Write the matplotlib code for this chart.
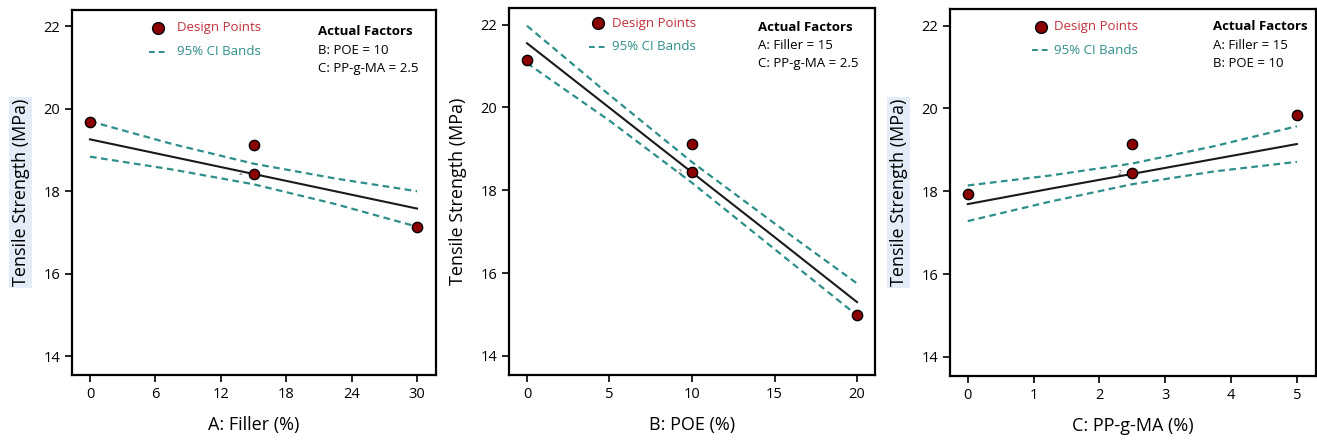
import matplotlib
matplotlib.use("Agg")
import matplotlib.pyplot as plt

plt.rcParams['font.family'] = ['Open Sans', 'DejaVu Sans']

# ---- data ----
# Panel A: Filler
a_x_pts = [0, 15, 15, 30]
a_y_pts = [19.68, 19.12, 18.43, 17.14]
a_x_line = [0, 7.5, 15, 22.5, 30]
a_fit = [19.26, 18.84, 18.42, 18.00, 17.58]
a_upper = [19.70, 19.15, 18.67, 18.31, 18.00]
a_lower = [18.84, 18.53, 18.17, 17.69, 17.14]

# Panel B: POE
b_x_pts = [0, 10, 10, 20]
b_y_pts = [21.15, 19.12, 18.44, 14.99]
b_x_line = [0, 5, 10, 15, 20]
b_fit = [21.55, 19.99, 18.43, 16.87, 15.30]
b_upper = [21.97, 20.30, 18.68, 17.20, 15.75]
b_lower = [21.07, 19.68, 18.18, 16.58, 14.98]

# Panel C: PP-g-MA
c_x_pts = [0, 2.5, 2.5, 5]
c_y_pts = [17.94, 19.13, 18.44, 19.84]
c_x_line = [0, 1.25, 2.5, 3.75, 5]
c_fit = [17.69, 18.06, 18.42, 18.78, 19.14]
c_upper = [18.14, 18.38, 18.67, 19.09, 19.57]
c_lower = [17.28, 17.75, 18.17, 18.48, 18.71]

a_xticks = [0, 6, 12, 18, 24, 30]
b_xticks = [0, 5, 10, 15, 20]
c_xticks = [0, 1, 2, 3, 4, 5]
yticks = [14, 16, 18, 20, 22]

xlabels = ["A: Filler (%)", "B: POE (%)", "C: PP-g-MA (%)"]
ylabel = "Tensile Strength (MPa)"
factors = [["B: POE = 10", "C: PP-g-MA = 2.5"],
           ["A: Filler = 15", "C: PP-g-MA = 2.5"],
           ["A: Filler = 15", "B: POE = 10"]]

panels = [
    (a_x_pts, a_y_pts, a_x_line, a_fit, a_upper, a_lower, a_xticks, (-1.65, 31.74)),
    (b_x_pts, b_y_pts, b_x_line, b_fit, b_upper, b_lower, b_xticks, (-1.09, 21.09)),
    (c_x_pts, c_y_pts, c_x_line, c_fit, c_upper, c_lower, c_xticks, (-0.27, 5.29)),
]

W, H = 1317, 442
fig = plt.figure(figsize=(W / 100, H / 100), dpi=100)

boxes = [(72, 436, 10, 375), (509, 875, 8, 375), (950, 1316, 9, 376)]
leg_pos = [(0.236, 0.288, 0.951, 0.885), (0.243, 0.281, 0.959, 0.894), (0.249, 0.284, 0.951, 0.888)]
fac_pos = [(0.676, 0.94, 0.05), (0.680, 0.948, 0.05), (0.719, 0.951, 0.05)]
ylab_bg = [True, False, True]

red = "#8b0000"
legred = "#c0323c"
teal = "#2e8f8a"

for i, (xp, yp, xl, fit, up, lo, xt, xlim) in enumerate(panels):
    l, r, t, b = boxes[i]
    ax = fig.add_axes([l / W, 1 - b / H, (r - l) / W, (b - t) / H])
    ax.plot(xl, up, ls=(0, (3, 2)), color=teal, lw=1.6, zorder=2)
    ax.plot(xl, lo, ls=(0, (3, 2)), color=teal, lw=1.6, zorder=2)
    ax.plot(xl, fit, color="#1a1a1a", lw=1.5, zorder=3)
    ax.scatter(xp, yp, s=55, color=red, edgecolor="black", linewidth=1.0, zorder=4)
    # replicate count label at the centre point
    ax.annotate("2", (xp[2], yp[2]), xytext=(-9, 0), textcoords="offset points",
                fontsize=5, color="#555555", ha="center", va="center")
    ax.set_xlim(*xlim)
    ax.set_ylim(13.54, 22.4)
    ax.set_xticks(xt)
    ax.set_yticks(yticks)
    ax.tick_params(direction="out", length=5, width=1.2, labelsize=10.5, colors="black")
    for s in ax.spines.values():
        s.set_linewidth(1.6)
    ax.set_xlabel(xlabels[i], fontsize=13, labelpad=10)
    if ylab_bg[i]:
        ax.set_ylabel(ylabel, fontsize=13, labelpad=10,
                      bbox=dict(facecolor="#e3ecf7", edgecolor="none", pad=1.5))
    else:
        ax.set_ylabel(ylabel, fontsize=13, labelpad=10)

    mx, tx, y1, y2 = leg_pos[i]
    ax.plot([mx], [y1], marker="o", ms=8.5, color=red, mec="black", mew=1.0,
            transform=ax.transAxes, clip_on=False)
    ax.text(tx, y1, "Design Points", transform=ax.transAxes, fontsize=9.5,
            color=legred, va="center", ha="left")
    ax.plot([mx - 0.025, mx + 0.025], [y2, y2], ls=(0, (3, 2)), color=teal, lw=1.4,
            transform=ax.transAxes, clip_on=False)
    ax.text(tx, y2, "95% CI Bands", transform=ax.transAxes, fontsize=9.5,
            color=teal, va="center", ha="left")

    fx, fy, dy = fac_pos[i]
    ax.text(fx, fy, "Actual Factors", transform=ax.transAxes, fontsize=9.5,
            fontweight="bold", va="center", ha="left")
    for k, s in enumerate(factors[i]):
        ax.text(fx, fy - dy * (k + 1), s, transform=ax.transAxes, fontsize=9.5,
                va="center", ha="left")

fig.savefig("out.png", dpi=100)
